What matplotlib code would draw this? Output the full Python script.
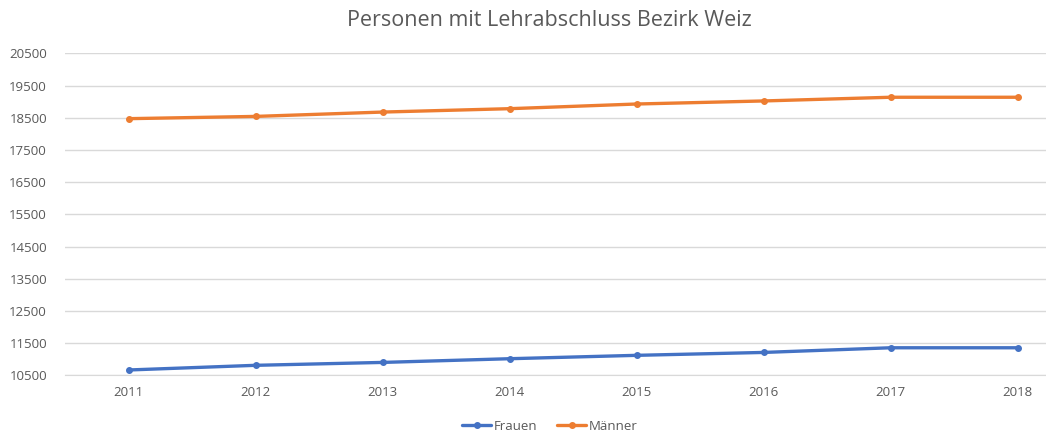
import matplotlib
matplotlib.use("Agg")
import matplotlib.pyplot as plt
from matplotlib.ticker import FixedLocator

years = [2011, 2012, 2013, 2014, 2015, 2016, 2017, 2018]
frauen = [10665, 10810, 10900, 11015, 11120, 11210, 11355, 11355]
maenner = [18470, 18540, 18675, 18780, 18925, 19020, 19135, 19135]
yticks = [10500, 11500, 12500, 13500, 14500, 15500, 16500, 17500, 18500, 19500, 20500]
title = "Personen mit Lehrabschluss Bezirk Weiz"

plt.rcParams['font.family'] = ['Open Sans', 'DejaVu Sans']
txt = '#595959'

fig = plt.figure(figsize=(10.46, 4.32), dpi=100)
ax = fig.add_axes([65/1046, (432-375.3)/432, 1016/1046, (375.3-53.3)/432])

ax.plot(years, frauen, color='#4472C4', lw=2.4, marker='o', ms=4, label='Frauen', solid_capstyle='round')
ax.plot(years, maenner, color='#ED7D31', lw=2.4, marker='o', ms=4, label='Männer', solid_capstyle='round')

ax.set_xlim(2010.5, 2018.5)
ax.set_ylim(10500, 20500)
ax.set_yticks(yticks)
ax.set_yticklabels([str(t) for t in yticks])
ax.set_xticks(years)
ax.set_xticklabels([str(y) for y in years])
ax.grid(axis='y', color='#D9D9D9', lw=1)
ax.set_axisbelow(True)
for s in ['top', 'right', 'left']:
    ax.spines[s].set_visible(False)
ax.spines['bottom'].set_color('#D9D9D9')
ax.tick_params(axis='both', length=0, colors=txt, labelsize=9.5)
ax.tick_params(axis='y', pad=13)
ax.tick_params(axis='x', pad=8)

fig.text(549/1046, 1 - 20/432, title, ha='center', va='center', fontsize=15.5, color=txt)
leg = fig.legend(loc='center', bbox_to_anchor=(550/1046, 1 - 426/432), ncol=2, frameon=False,
                 fontsize=9.5, handlelength=2.2, handletextpad=0.2, columnspacing=1.5, borderaxespad=0)
for t in leg.get_texts():
    t.set_color(txt)

fig.savefig('out.png', dpi=100)
